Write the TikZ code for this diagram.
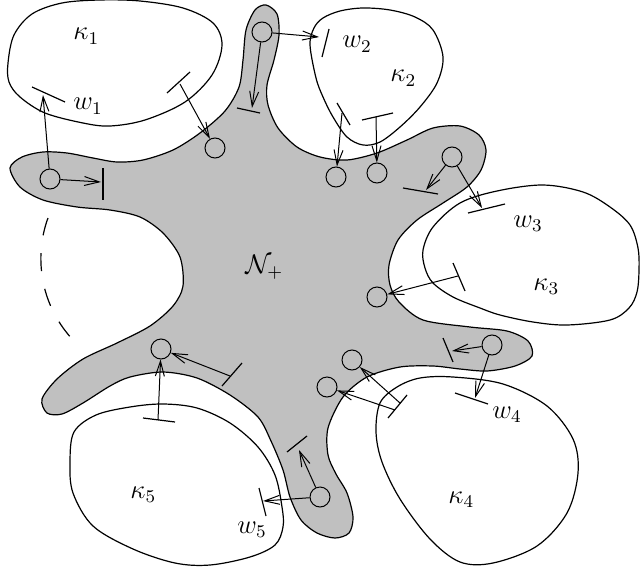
\documentclass[tikz,border=0pt]{standalone}
\usetikzlibrary{arrows.meta}
\definecolor{blobgray}{RGB}{192,192,192}
\newcommand{\lbl}[1]{\scalebox{1.12}{#1}}
\begin{document}
\begin{tikzpicture}[x=0.5pt,y=-0.5pt,
  grayblob/.style={fill=blobgray,draw=black,line width=0.6pt},
  whiteblob/.style={draw=black,line width=0.6pt},
  circ/.style={circle,draw,line width=0.5pt,minimum size=10pt,inner sep=0pt},
  arr/.style={line width=0.5pt,-{Straight Barb[length=7.5pt,width=4.5pt]}},
  barline/.style={line width=0.6pt},
  lab/.style={anchor=base west,inner sep=0pt,font=\fontsize{12}{14}\selectfont}]
\useasboundingbox (0,0) rectangle (640,572);
% gray region N+
\draw[grayblob] plot[smooth cycle,tension=0.5] coordinates {
 (10,168) (22,157) (43,152) (67,153) (93,158) (117,162) (143,160) (173,150)
 (200,133) (225,111) (239,87) (243,60) (246,30) (255,10) (266,5) (277,14)
 (279,35) (274,60) (267,85) (268,105) (278,128) (297,147) (320,157) (347,160)
 (377,153) (407,140) (433,128) (460,126) (479,135) (486,150) (481,170) (467,187)
 (443,203) (417,220) (398,240) (389,265) (390,285) (399,302) (423,320) (470,327)
 (507,331) (528,341) (532,356) (515,366) (487,371) (460,369) (433,366) (400,367)
 (367,377) (343,397) (328,428) (328,455) (336,474) (347,493) (353,517) (349,533)
 (335,538) (317,533) (301,520) (290,497) (283,470) (271,441) (258,417) (230,395)
 (197,378) (163,372) (130,377) (110,386) (83,403) (62,414) (47,413) (42,399)
 (57,379) (83,359) (117,343) (150,326) (173,306) (183,286) (180,257) (163,233)
 (140,217) (110,210) (77,207) (43,200) (20,187)};
% white regions
\draw[whiteblob] plot[smooth cycle,tension=0.55] coordinates {
 (8,63) (14,35) (32,14) (62,3) (100,0) (140,1) (183,8) (213,23) (222,45)
 (212,75) (185,102) (145,120) (110,126) (83,123) (45,113) (20,97) (9,82)};
\draw[whiteblob] plot[smooth cycle,tension=0.55] coordinates {
 (310,45) (314,28) (323,18) (340,11) (363,8) (390,10) (415,17) (433,30) (443,57)
 (437,83) (420,107) (400,127) (380,142) (363,145) (347,137) (333,117) (323,97) (316,78)};
\draw[whiteblob] plot[smooth cycle,tension=0.55] coordinates {
 (423,250) (433,227) (460,203) (497,191) (543,185) (583,192) (610,207) (630,225)
 (638,248) (639,270) (637,292) (629,308) (610,320) (567,325) (533,322) (500,315)
 (480,308) (453,297) (433,283) (425,268)};
\draw[whiteblob] plot[smooth cycle,tension=0.55] coordinates {
 (380,403) (397,387) (420,378) (453,377) (503,384) (547,406) (573,439) (578,473)
 (567,513) (537,546) (493,563) (460,562) (430,539) (400,499) (382,462) (376,432)};
\draw[whiteblob] plot[smooth cycle,tension=0.55] coordinates {
 (74,432) (96,415) (130,407) (163,404) (197,408) (230,423) (258,447) (275,475)
 (282,507) (283,527) (275,545) (250,557) (210,565) (175,563) (133,549) (93,526)
 (73,493) (70,462)};
% dashed arc
\draw[line width=0.6pt,dash pattern=on 9pt off 9pt] (48,218) .. controls (36,250) and (36,300) .. (73,340);
% labels
\node[lab] (k1) at (73,40) {\lbl{$\kappa_1$}};
\node[lab] (w1) at (73,110) {\lbl{$w_1$}};
\node[lab] (w2) at (342,48) {\lbl{$w_2$}};
\node[lab] (k2) at (390,82) {\lbl{$\kappa_2$}};
\node[lab] (w3) at (513,227) {\lbl{$w_3$}};
\node[lab] (k3) at (533,290) {\lbl{$\kappa_3$}};
\node[lab] (w4) at (492,418) {\lbl{$w_4$}};
\node[lab] (k4) at (448,503) {\lbl{$\kappa_4$}};
\node[lab] (w5) at (237,533) {\lbl{$w_5$}};
\node[lab] (k5) at (130,498) {\lbl{$\kappa_5$}};
\node[lab] (np) at (245,273) {\lbl{$\mathcal{N}_+$}};
% circles
\node[circ] (c1) at (50,179) {};
\node[circ] (c2) at (215,148) {};
\node[circ] (c3) at (262,32) {};
\node[circ] (c4) at (336,177) {};
\node[circ] (c5) at (377,173) {};
\node[circ] (c6) at (452,157) {};
\node[circ] (c7) at (377,297) {};
\node[circ] (c8) at (492,345) {};
\node[circ] (c9) at (352,360) {};
\node[circ] (c10) at (327,387) {};
\node[circ] (c11) at (320,497) {};
\node[circ] (c12) at (161,349) {};
% bars
\coordinate (b1a) at (32,87);   \coordinate (b1b) at (65,102);
\coordinate (b2a) at (103,168); \coordinate (b2b) at (103,200);
\coordinate (b3a) at (167,93);  \coordinate (b3b) at (190,72);
\coordinate (b4a) at (237,108); \coordinate (b4b) at (260,113);
\coordinate (b5a) at (322,57);  \coordinate (b5b) at (329,29);
\coordinate (b6a) at (337,103); \coordinate (b6b) at (350,125);
\coordinate (b7a) at (362,120); \coordinate (b7b) at (393,113);
\coordinate (b8a) at (403,188); \coordinate (b8b) at (438,194);
\coordinate (b9a) at (468,213); \coordinate (b9b) at (505,204);
\coordinate (b10a) at (453,263); \coordinate (b10b) at (465,291);
\coordinate (b11a) at (443,338); \coordinate (b11b) at (453,362);
\coordinate (b12a) at (455,393); \coordinate (b12b) at (488,404);
\coordinate (b13a) at (388,418); \coordinate (b13b) at (407,395);
\coordinate (b14a) at (287,452); \coordinate (b14b) at (307,436);
\coordinate (b15a) at (259,488); \coordinate (b15b) at (266,516);
\coordinate (b16a) at (222,386); \coordinate (b16b) at (242,363);
\coordinate (b17a) at (143,418); \coordinate (b17b) at (175,422);
\foreach \i in {1,...,17} {\draw[barline] (b\i a) -- (b\i b);}
% arrow end points
\coordinate (t1) at (43,95);
\coordinate (t2) at (101,182);
\coordinate (s3) at (180,84);
\coordinate (t4) at (252,108);
\coordinate (t5) at (319,37);
\coordinate (s6) at (342,113);
\coordinate (s7) at (376,117);
\coordinate (t8) at (426,190);
\coordinate (t9) at (482,208);
\coordinate (s10) at (458,276);
\coordinate (t11) at (452,351);
\coordinate (t12) at (475,398);
\coordinate (s13a) at (400,403);
\coordinate (s13b) at (395,410);
\coordinate (t14) at (299,450);
\coordinate (t15) at (263,501);
\coordinate (s16) at (230,376);
\coordinate (s17) at (158,420);
% arrows
\draw[arr] (c1) -- (t1);
\draw[arr] (c1) -- (t2);
\draw[arr] (s3) -- (c2);
\draw[arr] (c3) -- (t4);
\draw[arr] (c3) -- (t5);
\draw[arr] (s6) -- (c4);
\draw[arr] (s7) -- (c5);
\draw[arr] (c6) -- (t8);
\draw[arr] (c6) -- (t9);
\draw[arr] (s10) -- (c7);
\draw[arr] (c8) -- (t11);
\draw[arr] (c8) -- (t12);
\draw[arr] (s13a) -- (c9);
\draw[arr] (s13b) -- (c10);
\draw[arr] (c11) -- (t14);
\draw[arr] (c11) -- (t15);
\draw[arr] (s16) -- (c12);
\draw[arr] (s17) -- (c12);
\end{tikzpicture}
\end{document}
